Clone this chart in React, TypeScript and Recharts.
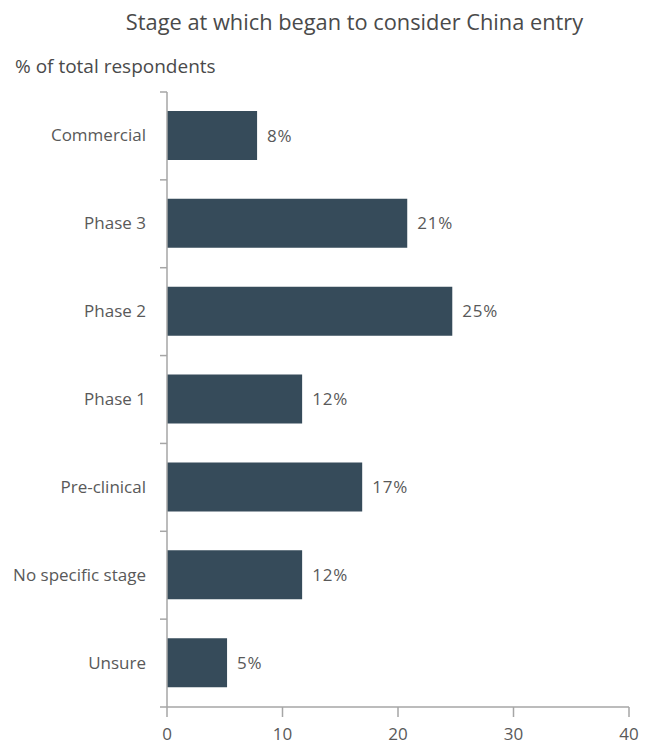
import React from "react";
import { BarChart, Bar, XAxis, YAxis, LabelList } from "recharts";

const categories = ["Commercial", "Phase 3", "Phase 2", "Phase 1", "Pre-clinical", "No specific stage", "Unsure"];
const values = [7.8, 20.8, 24.7, 11.7, 16.9, 11.7, 5.2];
const xTicks = [0, 10, 20, 30, 40];
const title = "Stage at which began to consider China entry";
const subtitle = "% of total respondents";

const data = categories.map((name, i) => ({ name, value: values[i] }));

const W = 656;
const H = 747;
const M_TOP = 92;
const X_AXIS_H = 40;
const PLOT_H = H - M_TOP - X_AXIS_H;
const BAND = PLOT_H / categories.length;
const AXIS_X = 167;
const FONT = "'Open Sans', sans-serif";
const TEXT = "#595959";
const AXIS = "#a6a6a6";
const BAR = "#364b5a";

const YTick = (props: any) => {
  const { y, payload, index } = props;
  return (
    <g>
      <line x1={AXIS_X - 7} x2={AXIS_X} y1={y - BAND / 2} y2={y - BAND / 2} stroke={AXIS} strokeWidth={1.5} />
      {index === categories.length - 1 && (
        <line x1={AXIS_X - 7} x2={AXIS_X} y1={y + BAND / 2} y2={y + BAND / 2} stroke={AXIS} strokeWidth={1.5} />
      )}
      <text x={AXIS_X - 21} y={y - 1} textAnchor="end" dominantBaseline="central" fill={TEXT} fontSize={17} fontFamily={FONT}>
        {payload.value}
      </text>
    </g>
  );
};

export default function App() {
  return (
    <div style={{ position: "absolute", left: 0, top: 0, width: W, height: H, background: "#fff" }}>
      <div style={{ position: "absolute", left: 0, width: W, top: 7, textAlign: "center", paddingLeft: 53, boxSizing: "border-box", fontFamily: FONT, fontSize: 21.8, color: "#4a4a4a", whiteSpace: "nowrap" }}>
        {title}
      </div>
      <div style={{ position: "absolute", left: 15, top: 53, fontFamily: FONT, fontSize: 19, color: "#4a4a4a", whiteSpace: "nowrap" }}>
        {subtitle}
      </div>
      <div style={{ position: "absolute", left: 0, top: 0 }}>
        <BarChart
          width={W}
          height={H}
          data={data}
          layout="vertical"
          margin={{ top: M_TOP, right: 27, bottom: 0, left: 0 }}
        >
          <XAxis
            type="number"
            domain={[0, 40]}
            ticks={xTicks}
            height={X_AXIS_H}
            stroke={AXIS}
            strokeWidth={1.5}
            tickSize={10}
            tickMargin={11}
            tick={{ fill: TEXT, fontSize: 17, fontFamily: FONT }}
            tickLine={{ stroke: AXIS, strokeWidth: 1.5 }}
          />
          <YAxis
            type="category"
            dataKey="name"
            width={AXIS_X}
            stroke={AXIS}
            strokeWidth={1.5}
            tickLine={false}
            tick={<YTick />}
            interval={0}
          />
          <Bar dataKey="value" fill={BAR} barSize={49} isAnimationActive={false}>
            <LabelList
              dataKey="value"
              position="right"
              offset={10}
              formatter={(v: any) => `${Math.round(Number(v))}%`}
              fill={TEXT}
              fontSize={17}
              letterSpacing={0.8}
              fontFamily={FONT}
            />
          </Bar>
        </BarChart>
      </div>
    </div>
  );
}
